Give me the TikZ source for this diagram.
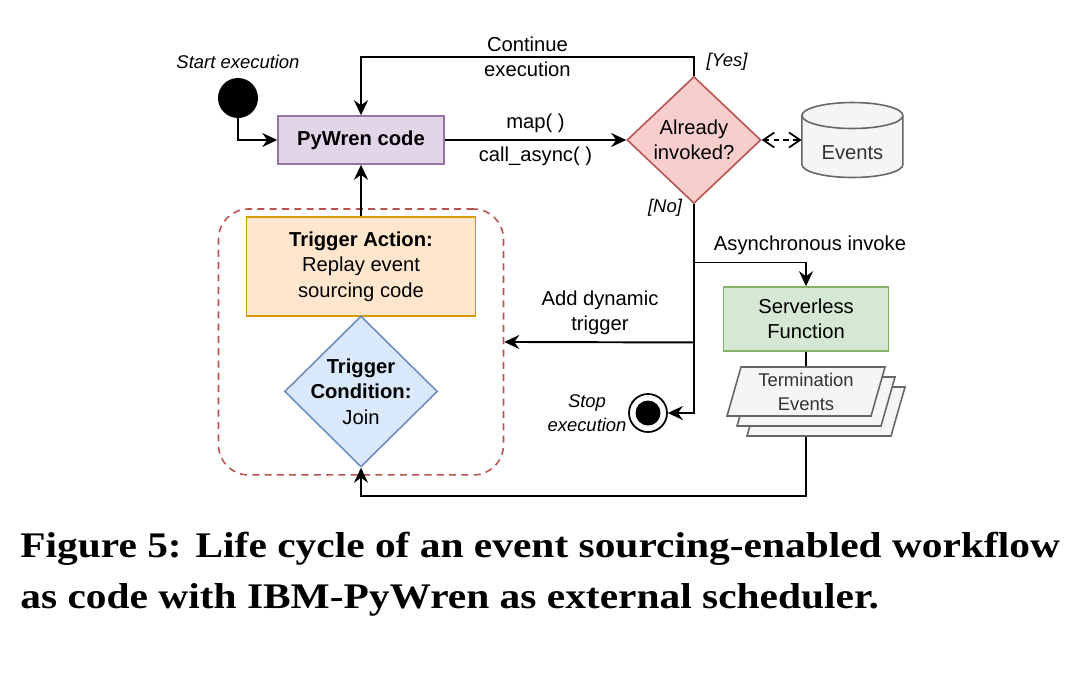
\documentclass[tikz,border=0pt]{standalone}
\usepackage{fontspec}
\setmainfont{Liberation Sans}
\newfontfamily\capfont[FakeStretch=1.15]{Liberation Serif}
\usetikzlibrary{shapes,arrows.meta,calc,positioning}
\definecolor{pwfill}{HTML}{E1D5E7}
\definecolor{pwdraw}{HTML}{9673A6}
\definecolor{chkfill}{HTML}{F8CECC}
\definecolor{chkdraw}{HTML}{B85450}
\definecolor{evfill}{HTML}{F5F5F5}
\definecolor{evdraw}{HTML}{666666}
\definecolor{slfill}{HTML}{D5E8D4}
\definecolor{sldraw}{HTML}{82B366}
\definecolor{actfill}{HTML}{FFE6CC}
\definecolor{actdraw}{HTML}{D79B00}
\definecolor{cndfill}{HTML}{DAE8FC}
\definecolor{cnddraw}{HTML}{6C8EBF}
\definecolor{txtgray}{HTML}{333333}
\newcommand{\dgfont}{\fontsize{11.5}{14.5}\selectfont}
\newcommand{\dgsmall}{\fontsize{10.5}{13.6}\selectfont}
\tikzset{
    block/.style = {draw, rectangle, line width=0.9pt, align=center, font=\dgfont},
    decision/.style = {draw, diamond, inner sep=0pt, line width=0.9pt},
    store/.style = {rectangle, minimum width=2.02cm, minimum height=1.5cm},
    cyl/.style = {draw=evdraw, fill=evfill, line width=0.9pt},
    lid/.style = {x radius=1.01cm, y radius=0.26cm},
    group/.style = {draw=chkdraw, dash pattern=on 4pt off 3pt, rounded corners=0.6cm,
        line width=0.9pt, minimum width=5.7cm, minimum height=5.32cm},
    init/.style = {circle, fill=black, minimum size=0.8cm, inner sep=0pt},
    final/.style = {circle, draw, line width=1pt, minimum size=0.76cm, inner sep=0pt,
        path picture={\fill (path picture bounding box.center) circle (0.25cm);}},
    lbl/.style = {align=center, font=\dgfont},
    guard/.style = {align=center, font=\dgsmall\itshape},
    sheet/.style = {draw=evdraw, fill=evfill, line width=0.9pt},
    arrow/.style = {draw, ->, line width=1.1pt},
    line/.style = {draw, line width=1.1pt},
    caption/.style = {anchor=base west, inner sep=0pt, font=\capfont\bfseries\fontsize{20.5}{24}\selectfont}
}
\def\termsheet{%
    +(-65,-24.5) -- +(79,-24.5) -- +(65,24.5) -- +(-79,24.5) -- cycle
}
\begin{document}
\begin{tikzpicture}[x=0.02cm, y=-0.02cm, >={Stealth[length=0.3cm,width=0.28cm,inset=0.1cm]}]
        \useasboundingbox (0,0) rectangle (1087,697);
        \node [init] (start) at (238,98) {};
        \node [guard, above of=start, node distance=0.72cm] (startlbl) {Start execution};
        \node [block, fill=pwfill, draw=pwdraw, minimum width=3.32cm, minimum height=0.96cm,
            font=\dgfont\bfseries] (pywren) at (361,140) {PyWren code};
        \node [decision, fill=chkfill, draw=chkdraw, minimum width=2.68cm, minimum height=2.54cm,
            label={[lbl]center:Already\\invoked?}, right of=pywren, node distance=6.66cm] (check) {};
        % database
        \node [coordinate, right of=check, node distance=3.17cm] (evc) {};
        \draw [cyl] ($(evc)+(-50.5,-24.5)$) -- ($(evc)+(-50.5,24.5)$) arc[lid, start angle=180, end angle=360]
            -- ($(evc)+(50.5,-24.5)$) arc[lid, start angle=0, end angle=180] -- cycle;
        \draw [cyl, fill=none] ($(evc)+(-50.5,-24.5)$) arc[lid, start angle=180, end angle=360];
        \node [store, label={[lbl, text=txtgray, yshift=-0.25cm]center:Events}] (events) at (evc) {};
        \node [group, below of=pywren, node distance=4.04cm] (trigger) {};
        \node [block, fill=actfill, draw=actdraw, minimum width=4.58cm, minimum height=1.98cm,
            below of=pywren, node distance=2.53cm] (action) {\textbf{Trigger Action:}\\Replay event\\sourcing code};
        \node [decision, fill=cndfill, draw=cnddraw, minimum width=3.06cm, minimum height=3.02cm,
            label={[lbl]center:\textbf{Trigger}\\\textbf{Condition:}\\Join},
            below of=action, node distance=2.5cm] (condition) {};
        \node [block, fill=slfill, draw=sldraw, minimum width=3.3cm, minimum height=1.28cm] (serverless) at (806,319) {Serverless\\Function};
        \node [coordinate, below of=serverless, node distance=1.45cm] (termc) {};
        \node [final] (stop) at (648,413) {};
        \node [guard, left of=stop, node distance=1.22cm] (stoplbl) {Stop\\execution};
        % flow
        \draw [arrow] (start) |- (pywren);
        \draw [arrow] (pywren) -- node[lbl, above] {map( )} node[lbl, below] {call\_async( )} (check);
        \draw [arrow] (check.north) -- ++(0,-19) -| node[lbl, pos=0.25] {Continue\\execution} (pywren.north);
        \node [guard] (yes) at (727,62) {[Yes]};
        \node [guard] (no) at (665,208) {[No]};
        \draw [dash pattern=on 3pt off 2.5pt, line width=1pt,
            {Straight Barb[length=0.22cm,width=0.3cm]}-{Straight Barb[length=0.22cm,width=0.3cm]}] (check.east) -- (events.west);
        \draw [arrow] (check.south) |- (stop);
        \node [coordinate, below of=check, node distance=2.45cm] (split1) {};
        \node [coordinate, below of=check, node distance=4.05cm] (split2) {};
        \draw [arrow] (split1) -| (serverless.north);
        \node [lbl] (asynclbl) at (810,245) {Asynchronous invoke};
        \draw [arrow] (split2) -- (trigger.east);
        \node [lbl] (addlbl) at (600,313) {Add dynamic\\trigger};
        \draw [arrow] (action) -- (pywren);
        \draw [line] (serverless) -- (termc);
        \draw [arrow] (termc) -- ++(0,104.5) -| (condition.south);
        \foreach \d in {20,10,0}{
            \draw [sheet] ($(termc)+(\d,\d)$) \termsheet;
        }
        \node [lbl, font=\dgsmall, text=txtgray] (term) at (termc) {Termination\\Events};
        % caption
        \node [caption] (cap1) at (20,557) {Figure 5: Life cycle of an event sourcing-enabled workflow};
        \node [caption] (cap2) at (20,608) {as code with IBM-PyWren as external scheduler.};
\end{tikzpicture}
\end{document}
